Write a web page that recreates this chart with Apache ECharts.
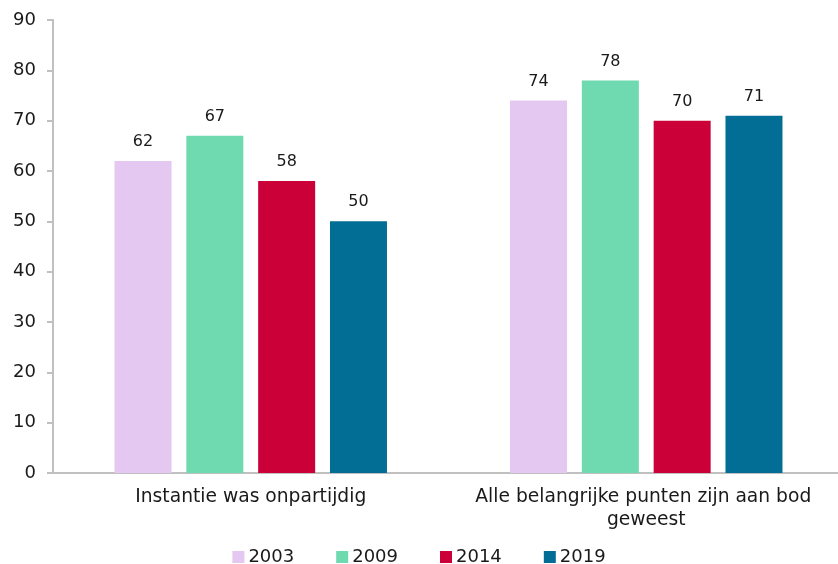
<!DOCTYPE html>
<html>
<head>
<meta charset="utf-8">
<script src="https://cdn.jsdelivr.net/npm/echarts@6/dist/echarts.min.js"></script>
<style>
  html, body { margin: 0; padding: 0; background: #fff; }
  #chart { width: 838px; height: 564px; }
</style>
</head>
<body>
<div id="chart"></div>
<script>
// Survey outcomes per year (percentages)
const categories = ['Instantie was onpartijdig', 'Alle belangrijke punten zijn aan bod geweest'];
const years = ['2003', '2009', '2014', '2019'];
const values2003 = [62, 74];
const values2009 = [67, 78];
const values2014 = [58, 70];
const values2019 = [50, 71];
const yTicks = [0, 10, 20, 30, 40, 50, 60, 70, 80, 90];

const colors = ['#E5C8F1', '#6FD9AF', '#CC0039', '#036E95'];
const seriesValues = [values2003, values2009, values2014, values2019];
const font = 'DejaVu Sans, Verdana, sans-serif';

const chart = echarts.init(document.getElementById('chart'));
chart.setOption({
  animation: false,
  textStyle: { fontFamily: font },
  // plot area runs slightly past the right edge of the canvas
  grid: { left: 53, width: 791, top: 20, bottom: 91, containLabel: false, outerBoundsMode: 'none' },
  legend: {
    top: 543,
    left: 'center',
    itemWidth: 12,
    itemHeight: 12,
    itemGap: 42,
    icon: 'rect',
    textStyle: { fontSize: 18, color: '#1a1a1a', fontFamily: font, padding: [0, 0, 0, -1] },
    data: years
  },
  xAxis: {
    type: 'category',
    data: categories,
    axisLine: { lineStyle: { color: '#C0C0C0', width: 2 } },
    axisTick: { show: false },
    axisLabel: {
      fontSize: 18.7,
      color: '#1a1a1a',
      margin: 13,
      lineHeight: 23,
      width: 375,
      overflow: 'break',
      interval: 0
    }
  },
  yAxis: {
    type: 'value',
    min: yTicks[0],
    max: yTicks[yTicks.length - 1],
    interval: 10,
    axisLine: { show: true, lineStyle: { color: '#C0C0C0', width: 2 } },
    axisTick: { show: true, length: 6, lineStyle: { color: '#C0C0C0', width: 2 } },
    splitLine: { show: false },
    axisLabel: { fontSize: 18, color: '#1a1a1a', margin: 17 }
  },
  series: years.map((y, i) => ({
    name: y,
    type: 'bar',
    data: seriesValues[i],
    barWidth: 57,
    barGap: '26%',
    itemStyle: { color: colors[i] },
    label: {
      show: true,
      position: 'top',
      distance: 11,
      fontSize: 16,
      color: '#1a1a1a'
    }
  }))
});
</script>
</body>
</html>
